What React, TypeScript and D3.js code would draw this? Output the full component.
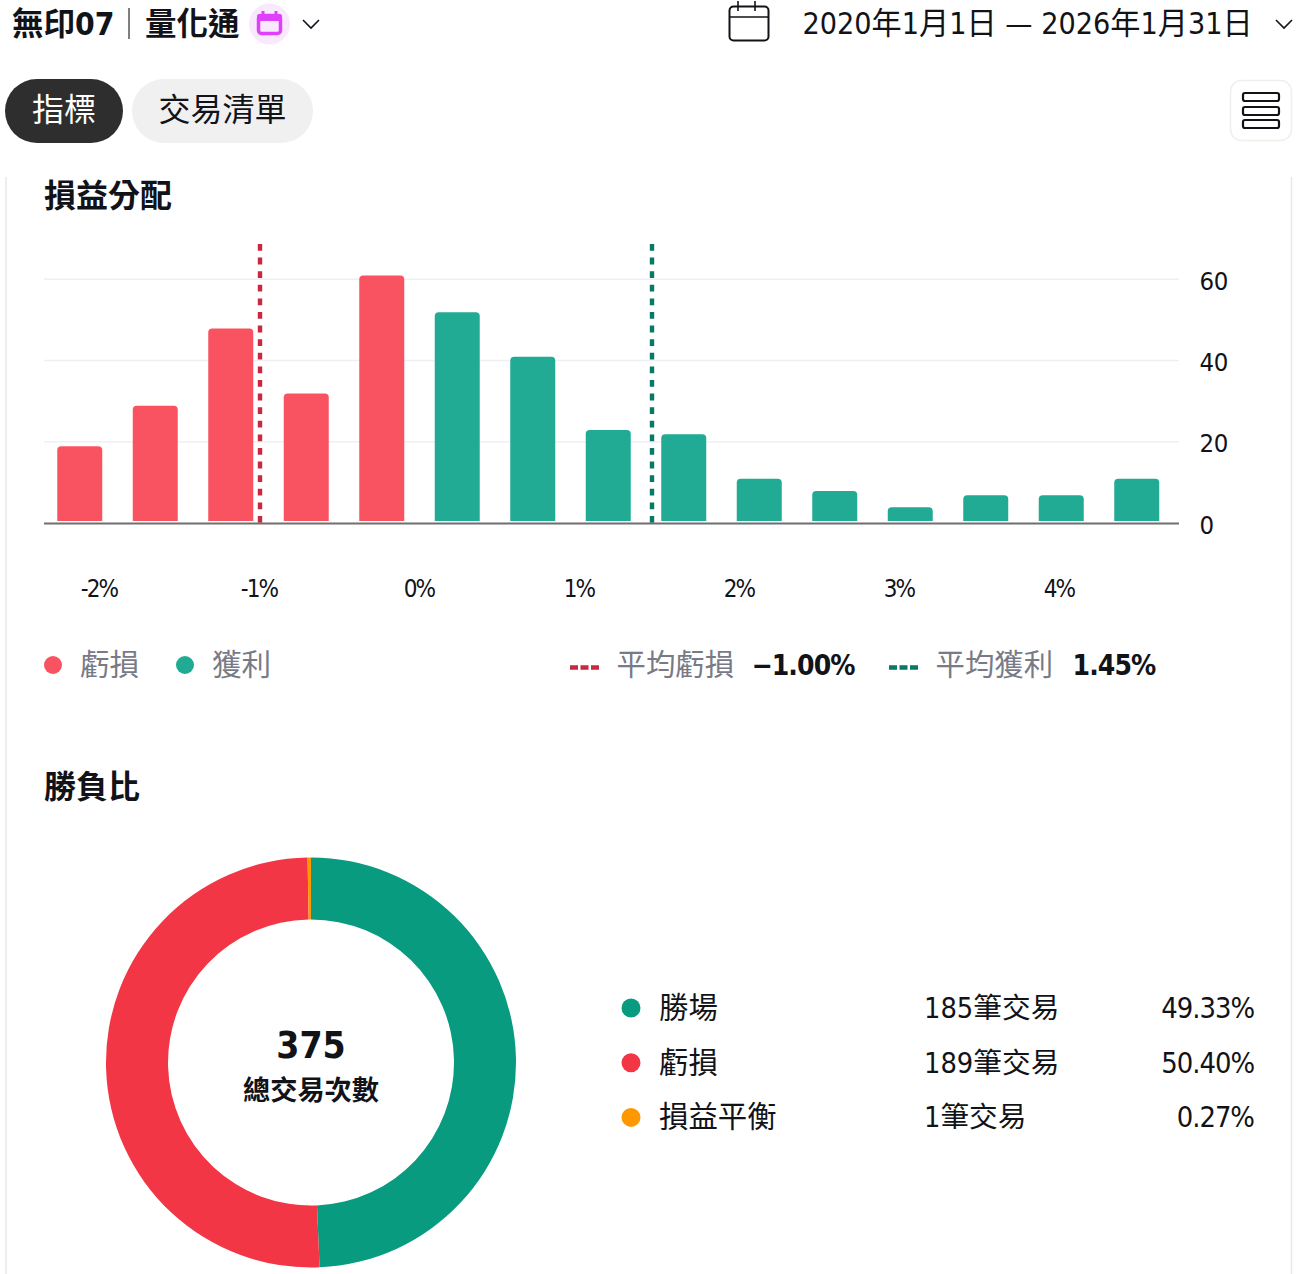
import { useEffect, useRef } from "react";
import * as d3 from "d3";

// histogram of trade returns
const binIds = ["b1", "b2", "b3", "b4", "b5", "b6", "b7", "b8", "b9", "b10", "b11", "b12", "b13", "b14", "b15"];
const binCounts = [19, 29, 48, 32, 61, 52, 41, 23, 22, 11, 8, 4, 7, 7, 11];
const binIsLoss = [true, true, true, true, true, false, false, false, false, false, false, false, false, false, false];
const pctTicks = [-2, -1, 0, 1, 2, 3, 4];
const countTicks = [0, 20, 40, 60];
const avgLoss = -1.0;
const avgWin = 1.45;

// win / loss donut
const outcomeNames = ["勝場", "虧損", "損益平衡"];
const outcomeCounts = [185, 189, 1];
const outcomeShares = ["49.33%", "50.40%", "0.27%"];
const outcomeColors = ["#089b7f", "#f23645", "#ff9800"];

const SANS = "'DejaVu Sans Condensed', 'DejaVu Sans', 'Noto Sans CJK TC', sans-serif";
const RED = "#f95361";
const GREEN = "#22ab94";
const RED_DARK = "#c9283e";
const GREEN_DARK = "#067a64";
const GREY = "#787b86";
const INK = "#111318";
const PINK = "#e040fb";

export default function App() {
    const svgRef = useRef<SVGSVGElement | null>(null);

    useEffect(() => {
        if (!svgRef.current) return;
        const svg = d3.select(svgRef.current);
        svg.selectAll("*").remove();
        svg.attr("font-family", SANS);

        const text = (x: number, y: number, s: string, size: number, fill: string, weight = 400, anchor = "start") =>
            svg.append("text")
                .attr("x", x)
                .attr("y", y)
                .attr("font-size", size)
                .attr("font-weight", weight)
                .attr("fill", fill)
                .attr("text-anchor", anchor)
                .text(s);

        // card edges
        svg.append("line").attr("x1", 6).attr("x2", 6).attr("y1", 177).attr("y2", 1274).attr("stroke", "#e8e8e8").attr("stroke-width", 1.5);
        svg.append("line").attr("x1", 1291.5).attr("x2", 1291.5).attr("y1", 177).attr("y2", 1274).attr("stroke", "#e8e8e8").attr("stroke-width", 1.5);

        // top bar
        text(12, 35, "無印07", 31.5, INK, 700);
        svg.append("line").attr("x1", 129).attr("x2", 129).attr("y1", 8).attr("y2", 39).attr("stroke", "#555").attr("stroke-width", 1.5);
        text(145, 35, "量化通", 31.5, INK, 700);
        svg.append("circle").attr("cx", 269.5).attr("cy", 24).attr("r", 20.5).attr("fill", "#f8e9fd");
        svg.append("rect").attr("x", 258.5).attr("y", 15.5).attr("width", 22).attr("height", 18).attr("rx", 3).attr("fill", "none").attr("stroke", PINK).attr("stroke-width", 3.5);
        svg.append("rect").attr("x", 257).attr("y", 14).attr("width", 25).attr("height", 7).attr("rx", 2).attr("fill", PINK);
        svg.append("path").attr("d", "M263 11V15M276 11V15").attr("stroke", PINK).attr("stroke-width", 3);
        svg.append("path").attr("d", "M303 20L311 28L319 20").attr("fill", "none").attr("stroke", INK).attr("stroke-width", 1.6);

        svg.append("rect").attr("x", 729.5).attr("y", 6.5).attr("width", 39).attr("height", 34).attr("rx", 4).attr("fill", "none").attr("stroke", INK).attr("stroke-width", 2);
        svg.append("path").attr("d", "M730 17H768M738 1V11M755 1V11").attr("fill", "none").attr("stroke", INK).attr("stroke-width", 1.6);
        text(802.5, 34, "2020年1月1日 — 2026年1月31日", 30.2, INK);
        svg.append("path").attr("d", "M1276 20L1284 28L1292 20").attr("fill", "none").attr("stroke", INK).attr("stroke-width", 1.6);

        // tabs
        svg.append("rect").attr("x", 5).attr("y", 79).attr("width", 118).attr("height", 64).attr("rx", 32).attr("fill", "#2e2e2e");
        text(64, 121, "指標", 32, "#ffffff", 400, "middle");
        svg.append("rect").attr("x", 132).attr("y", 79).attr("width", 181).attr("height", 64).attr("rx", 32).attr("fill", "#f0f0f0");
        text(222.5, 121, "交易清單", 32, INK, 400, "middle");

        svg.append("rect").attr("x", 1230.5).attr("y", 80.5).attr("width", 61).attr("height", 60).attr("rx", 11).attr("fill", "#fff").attr("stroke", "#efefef").attr("stroke-width", 1.5);
        [93, 107, 120].forEach((y) => {
            svg.append("rect").attr("x", 1243).attr("y", y).attr("width", 36).attr("height", 8).attr("rx", 2).attr("fill", "none").attr("stroke", INK).attr("stroke-width", 2.2);
        });

        // histogram
        text(44, 207, "損益分配", 32, INK, 700);

        const y = d3.scaleLinear().domain([0, 60]).range([523.6, 279.6]);
        const band = d3.scaleBand<string>().domain(binIds).range([42, 1174.5]).paddingInner(0.404).paddingOuter(0.202);
        const pct = d3.scaleLinear().domain([0, 1]).range([420, 580]);

        svg.append("g")
            .selectAll("line")
            .data(countTicks.filter((d) => d > 0))
            .join("line")
            .attr("x1", 44)
            .attr("x2", 1179)
            .attr("y1", (d) => y(d) - 0.4)
            .attr("y2", (d) => y(d) - 0.4)
            .attr("stroke", "#eef0f5")
            .attr("stroke-width", 1.5);

        const barBottom = 521;
        svg.append("g")
            .selectAll("path")
            .data(binCounts)
            .join("path")
            .attr("d", (d, i) => {
                const x0 = band(binIds[i]) as number;
                const x1 = x0 + band.bandwidth();
                const top = y(d);
                const r = 4;
                return `M${x0},${barBottom}V${top + r}Q${x0},${top} ${x0 + r},${top}H${x1 - r}Q${x1},${top} ${x1},${top + r}V${barBottom}Z`;
            })
            .attr("fill", (d, i) => (binIsLoss[i] ? RED : GREEN));

        // average markers
        [
            { v: avgLoss, c: RED_DARK },
            { v: avgWin, c: GREEN_DARK },
        ].forEach(({ v, c }) => {
            svg.append("line")
                .attr("x1", pct(v))
                .attr("x2", pct(v))
                .attr("y1", 244)
                .attr("y2", 523)
                .attr("stroke", c)
                .attr("stroke-width", 4.4)
                .attr("stroke-dasharray", "6.8 6.8");
        });

        svg.append("line").attr("x1", 44).attr("x2", 1179).attr("y1", 523.5).attr("y2", 523.5).attr("stroke", "#6f6f6f").attr("stroke-width", 2);

        const xAxis = svg.append("g")
            .attr("transform", "translate(-1.5,597)")
            .call(d3.axisBottom(pct).tickValues(pctTicks).tickSize(0).tickPadding(0).tickFormat((d) => `${d}%`));
        xAxis.select(".domain").remove();
        xAxis.selectAll("text")
            .attr("y", 0)
            .attr("dy", 0)
            .attr("font-size", 24)
            .attr("letter-spacing", -1.8)
            .attr("font-family", SANS)
            .attr("fill", INK);

        const yAxis = svg.append("g")
            .attr("transform", "translate(1199.5,0)")
            .call(d3.axisRight(y).tickValues(countTicks).tickSize(0).tickPadding(0));
        yAxis.select(".domain").remove();
        yAxis.selectAll("text")
            .attr("font-size", 25.5)
            .attr("letter-spacing", -0.4)
            .attr("font-family", SANS)
            .attr("fill", INK)
            .attr("dy", "0.37em");

        // histogram legend
        svg.append("circle").attr("cx", 53).attr("cy", 665).attr("r", 9).attr("fill", RED);
        text(80, 675, "虧損", 29.6, GREY);
        svg.append("circle").attr("cx", 185).attr("cy", 665).attr("r", 9).attr("fill", GREEN);
        text(212, 675, "獲利", 29.6, GREY);

        svg.append("line").attr("x1", 570).attr("x2", 599).attr("y1", 667.5).attr("y2", 667.5).attr("stroke", RED_DARK).attr("stroke-width", 4.6).attr("stroke-dasharray", "8 2.5");
        text(616.5, 675, "平均虧損", 29.4, GREY);
        text(751.5, 675, `−${Math.abs(avgLoss).toFixed(2)}%`, 28, INK, 700).attr("letter-spacing", -0.9);
        svg.append("line").attr("x1", 889).attr("x2", 918).attr("y1", 667.5).attr("y2", 667.5).attr("stroke", GREEN_DARK).attr("stroke-width", 4.6).attr("stroke-dasharray", "8 2.5");
        text(935.5, 675, "平均獲利", 29.4, GREY);
        text(1072.5, 675, `${avgWin.toFixed(2)}%`, 28, INK, 700).attr("letter-spacing", -0.9);

        // donut
        text(44, 798, "勝負比", 32, INK, 700);

        const pie = d3.pie<number>().sort(null)(outcomeCounts);
        const arc = d3.arc<d3.PieArcDatum<number>>().innerRadius(143).outerRadius(205);
        const donut = svg.append("g").attr("transform", "translate(311,1062.5)");
        donut.selectAll("path")
            .data(pie)
            .join("path")
            .attr("d", arc)
            .attr("fill", (d, i) => outcomeColors[i]);

        text(311, 1058, String(d3.sum(outcomeCounts)), 37, INK, 700, "middle");
        text(311, 1100, "總交易次數", 27.2, INK, 700, "middle");

        outcomeNames.forEach((name, i) => {
            const rowY = 1018 + i * 54.7;
            svg.append("circle").attr("cx", 631).attr("cy", rowY - 10).attr("r", 9.5).attr("fill", outcomeColors[i]);
            text(659, rowY, name, 29.4, INK);
            text(924, rowY, `${outcomeCounts[i]}筆交易`, 28.7, INK);
            text(1254, rowY, outcomeShares[i], 28.8, INK, 400, "end").attr("letter-spacing", -1);
        });
    }, []);

    return (
        <svg
            ref={svgRef}
            width={1298}
            height={1274}
            style={{ position: "absolute", left: 0, top: 0, display: "block", background: "#fff" }}
        />
    );
}
